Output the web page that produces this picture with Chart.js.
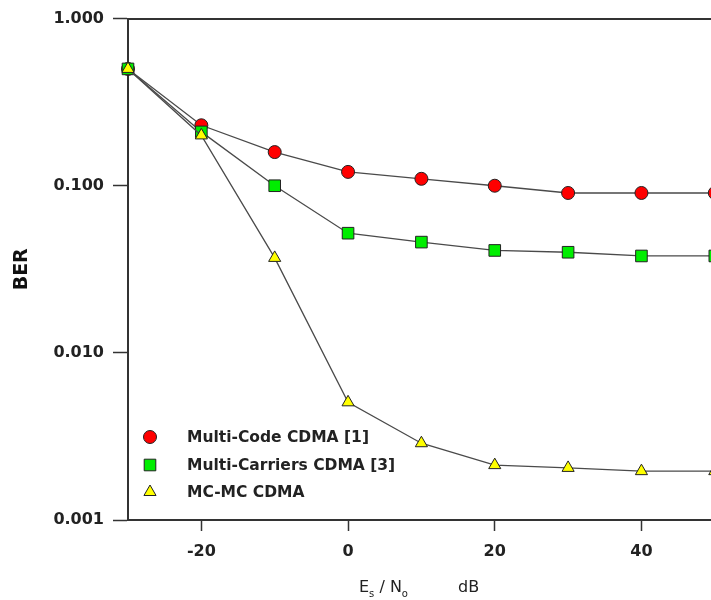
<!DOCTYPE html>
<html>
<head>
<meta charset="utf-8">
<script src="https://cdn.jsdelivr.net/npm/chart.js@4.4.1/dist/chart.umd.min.js"></script>
<style>
  html, body { margin: 0; padding: 0; background: #fff; overflow: hidden; }
  #wrap { width: 711px; height: 600px; overflow: hidden; }
  canvas { display: block; }
</style>
</head>
<body>
<div id="wrap"><canvas id="berChart" width="724" height="600"></canvas></div>
<script>
let snr = [-30, -20, -10, 0, 10, 20, 30, 40, 50];
let multiCode = [0.5, 0.23, 0.159, 0.121, 0.11, 0.1, 0.0905, 0.0905, 0.0905];
let multiCarrier = [0.5, 0.21, 0.1, 0.052, 0.046, 0.041, 0.040, 0.038, 0.038];
let mcmc = [0.5, 0.2, 0.037, 0.00506, 0.00288, 0.00213, 0.00205, 0.00196, 0.00196];
let seriesNames = ['Multi-Code CDMA [1]', 'Multi-Carriers CDMA [3]', 'MC-MC CDMA'];
let xTicks = [-20, 0, 20, 40];
let yTicks = [0.001, 0.01, 0.1, 1];

let lineColor = '#4a4a4a';
let axisColor = '#333';
let fontFamily = '"DejaVu Sans", Verdana, sans-serif';
let tickFont = { family: fontFamily, size: 16, weight: 'bold' };

function toPoints(values) {
    return values.map((v, i) => ({ x: snr[i], y: v }));
}

function makeSet(label, values, style, fill, order) {
    return {
        label: label,
        data: toPoints(values),
        borderColor: lineColor,
        borderWidth: 1.3,
        pointStyle: style,
        pointRadius: style == 'circle' ? 6.5 : (style == 'rect' ? 8.2 : 7),
        pointBackgroundColor: fill,
        pointBorderColor: '#222',
        pointBorderWidth: 1,
        order: order,
        clip: false
    };
}

// legend drawn inside the plot area, bottom-left
let insideLegend = {
    id: 'insideLegend',
    afterDraw(chart) {
        let ctx = chart.ctx;
        let rows = [437, 465, 492];
        ctx.save();
        ctx.font = 'bold 15.5px ' + fontFamily;
        ctx.textBaseline = 'middle';
        chart.data.datasets.forEach((ds, i) => {
            ctx.fillStyle = ds.pointBackgroundColor;
            ctx.strokeStyle = '#222';
            ctx.lineWidth = 1;
            Chart.helpers.drawPoint(ctx, {
                pointStyle: ds.pointStyle,
                radius: ds.pointRadius,
                borderWidth: 1
            }, 150, rows[i]);
            ctx.fillStyle = '#222';
            ctx.fillText(ds.label, 187, rows[i] + 1);
        });
        ctx.restore();
    }
};

// x axis title with subscripts: Es / No   dB
let xTitle = {
    id: 'xTitle',
    afterDraw(chart) {
        let ctx = chart.ctx;
        let y = 592;
        let x = 359;
        ctx.save();
        ctx.fillStyle = '#222';
        ctx.textBaseline = 'alphabetic';
        let big = '16px ' + fontFamily;
        let small = '10px ' + fontFamily;
        let parts = [['E', big, 0], ['s', small, 5], [' / N', big, 0], ['o', small, 5]];
        parts.forEach(p => {
            ctx.font = p[1];
            ctx.fillText(p[0], x, y + p[2]);
            x += ctx.measureText(p[0]).width;
        });
        ctx.font = big;
        ctx.fillText('dB', 458, y);
        ctx.restore();
    }
};

let ctx = document.getElementById('berChart').getContext('2d');
let chart = new Chart(ctx, {
    type: 'line',
    data: {
        datasets: [
            makeSet(seriesNames[0], multiCode, 'circle', '#ff0000', 3),
            makeSet(seriesNames[1], multiCarrier, 'rect', '#00ee00', 2),
            makeSet(seriesNames[2], mcmc, 'triangle', '#ffff00', 1)
        ]
    },
    options: {
        responsive: false,
        animation: false,
        layout: { padding: { top: 17, right: 1, left: 0, bottom: 0 } },
        plugins: {
            legend: { display: false },
            tooltip: { enabled: false }
        },
        scales: {
            x: {
                type: 'linear',
                min: -30,
                max: 50,
                afterBuildTicks: (scale) => { scale.ticks = xTicks.map(v => ({ value: v })); },
                afterFit: (scale) => { scale.height = 80; },
                grid: { drawOnChartArea: false, drawTicks: true, tickLength: 11, color: axisColor, tickWidth: 1.5 },
                border: { display: true, color: axisColor, width: 2 },
                ticks: { font: tickFont, color: '#222', padding: 11, maxRotation: 0 }
            },
            xTop: {
                type: 'linear',
                position: 'top',
                min: -30,
                max: 50,
                afterFit: (scale) => { scale.height = 0; },
                grid: { display: false, drawTicks: false },
                border: { display: true, color: axisColor, width: 2 },
                ticks: { display: false }
            },
            y: {
                type: 'logarithmic',
                min: 0.001,
                max: 1,
                afterBuildTicks: (scale) => { scale.ticks = yTicks.map(v => ({ value: v })); },
                afterFit: (scale) => { scale.width = 128; },
                grid: { drawOnChartArea: false, drawTicks: true, tickLength: 15, color: axisColor, tickWidth: 1.5 },
                border: { display: true, color: axisColor, width: 2 },
                ticks: {
                    font: tickFont,
                    color: '#222',
                    padding: 9,
                    callback: (v) => Number(v).toFixed(3)
                },
                title: {
                    display: true,
                    text: 'BER',
                    font: { family: fontFamily, size: 19, weight: 'bold' },
                    color: '#111',
                    padding: { top: 11, bottom: 0 }
                }
            }
        }
    },
    plugins: [insideLegend, xTitle]
});
</script>
</body>
</html>
